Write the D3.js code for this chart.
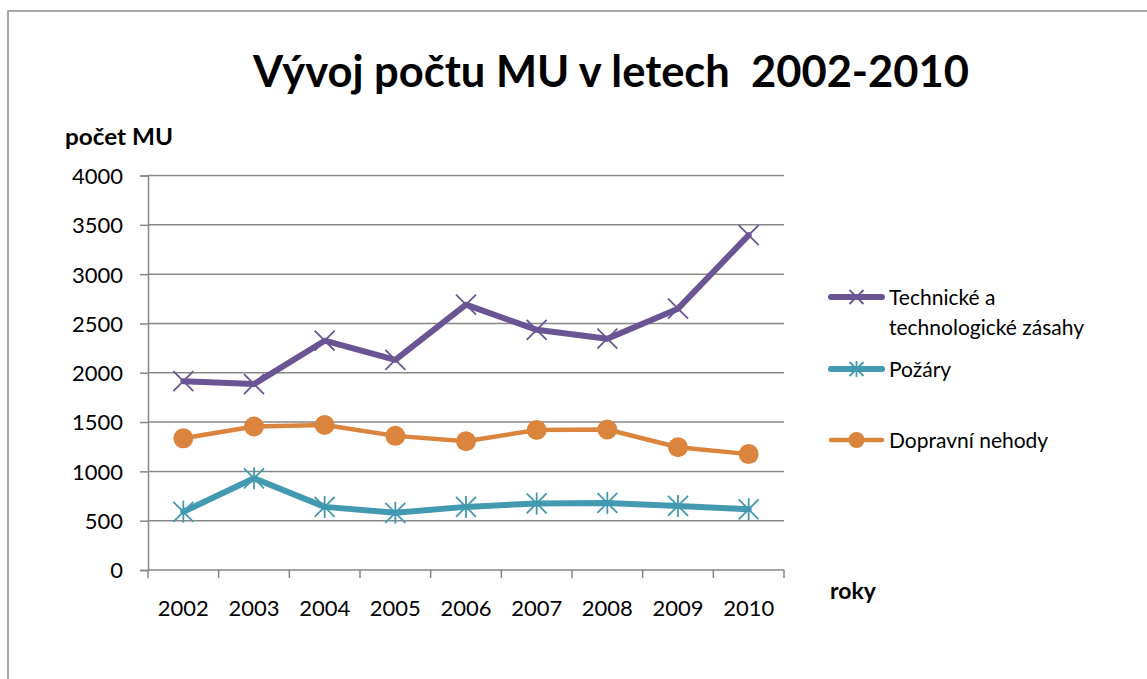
<!DOCTYPE html>
<html><head><meta charset="utf-8">
<script src="https://cdn.jsdelivr.net/npm/d3@7"></script>
<style>html,body{margin:0;padding:0;background:#fff;overflow:hidden}</style>
</head><body>
<script>
const years = ["2002","2003","2004","2005","2006","2007","2008","2009","2010"];
const technicke = [1915, 1885, 2325, 2130, 2690, 2435, 2345, 2650, 3395];
const pozary = [590, 930, 640, 580, 640, 675, 680, 650, 615];
const dopravni = [1335, 1455, 1470, 1360, 1305, 1420, 1425, 1245, 1175];
const yTicks = [0, 500, 1000, 1500, 2000, 2500, 3000, 3500, 4000];
const seriesNames = ["Technické a|technologické zásahy", "Požáry", "Dopravní nehody"];

const W = 1147, H = 679;
const font = "Lato, 'Open Sans', sans-serif";
const svg = d3.select("body").append("svg").attr("width", W).attr("height", H);

// frame
svg.append("rect").attr("x", 8).attr("y", 11).attr("width", W + 20).attr("height", H + 20)
  .attr("fill", "#fff").attr("stroke", "#8c8c8c").attr("stroke-width", 1.5);

const x = d3.scaleBand().domain(years).range([148, 784]).padding(0);
const y = d3.scaleLinear().domain([0, 4000]).range([570, 175.5]);
const cx = d => x(d) + x.bandwidth() / 2;

const grid = "#878787";
// gridlines
svg.append("g").selectAll("line").data(yTicks.filter(t => t > 0)).join("line")
  .attr("x1", 148).attr("x2", 784).attr("y1", d => y(d)).attr("y2", d => y(d))
  .attr("stroke", grid).attr("stroke-width", 1.5);

// y axis
const yAxis = svg.append("g").attr("transform", "translate(148,0)")
  .call(d3.axisLeft(y).tickValues(yTicks).tickSize(8).tickPadding(17).tickFormat(d3.format("d")));
yAxis.select(".domain").attr("stroke", grid).attr("stroke-width", 1.5);
yAxis.selectAll(".tick line").attr("stroke", grid).attr("stroke-width", 1.5);
yAxis.selectAll("text").attr("font-family", font).attr("font-size", 22).attr("fill", "#000").attr("dy", "0.36em");

// x axis
const xAxis = svg.append("g").attr("transform", "translate(0,570)")
  .call(d3.axisBottom(x).tickSize(0).tickPadding(30));
xAxis.select(".domain").attr("stroke", grid).attr("stroke-width", 1.5).attr("d", "M148,0H784");
xAxis.selectAll("text").attr("font-family", font).attr("font-size", 22).attr("fill", "#000");
const bounds = years.map(d => x(d)).concat([784]);
svg.append("g").selectAll("line").data(bounds).join("line")
  .attr("x1", d => d).attr("x2", d => d).attr("y1", 570).attr("y2", 578)
  .attr("stroke", grid).attr("stroke-width", 1.5);

// titles
svg.append("text").attr("x", 611).attr("y", 87).attr("text-anchor", "middle")
  .attr("font-family", font).attr("font-weight", "bold").attr("font-size", 43)
  .attr("textLength", 716).attr("lengthAdjust", "spacingAndGlyphs")
  .text("Výv\u200Boj počtu MU v letech  2002-2010").attr("xml:space", "preserve");
svg.append("text").attr("x", 65).attr("y", 145).attr("font-family", font).attr("font-weight", "bold")
  .attr("font-size", 23).attr("textLength", 108).attr("lengthAdjust", "spacingAndGlyphs").text("počet MU");
svg.append("text").attr("x", 830).attr("y", 599).attr("font-family", font).attr("font-weight", "bold")
  .attr("font-size", 23).text("roky");

const colors = ["#6b5494", "#4299b0", "#db843d"];
const widths = [6, 6, 4.5];
const data = [technicke, pozary, dopravni];
const line = d3.line().x((d, i) => cx(years[i])).y(d => y(d));

function marker(g, type, color) {
  if (type === 0) {
    g.append("path").attr("d", "M-10,-10L10,10M-10,10L10,-10").attr("stroke", color).attr("stroke-width", 1.8).attr("fill", "none");
  } else if (type === 1) {
    g.append("path").attr("d", "M-10,-10L10,10M-10,10L10,-10M0,-11V11").attr("stroke", color).attr("stroke-width", 1.8).attr("fill", "none");
  } else {
    g.append("circle").attr("r", 10).attr("fill", color);
  }
}

data.forEach((vals, si) => {
  svg.append("path").datum(vals).attr("d", line).attr("fill", "none")
    .attr("stroke", colors[si]).attr("stroke-width", widths[si]).attr("stroke-linejoin", "round").attr("stroke-linecap", "round");
  vals.forEach((v, i) => {
    const g = svg.append("g").attr("transform", `translate(${cx(years[i])},${y(v)})`);
    marker(g, si, colors[si]);
  });
});

// legend
const legY = [297, 369, 440];
seriesNames.forEach((name, si) => {
  svg.append("line").attr("x1", 831).attr("x2", 882).attr("y1", legY[si]).attr("y2", legY[si])
    .attr("stroke", colors[si]).attr("stroke-width", widths[si]).attr("stroke-linecap", "round");
  const g = svg.append("g").attr("transform", `translate(856.5,${legY[si]})`);
  if (si === 0) g.append("path").attr("d", "M-7,-7L7,7M-7,7L7,-7").attr("stroke", colors[si]).attr("stroke-width", 1.8);
  else if (si === 1) g.append("path").attr("d", "M-7,-7L7,7M-7,7L7,-7M0,-8V8").attr("stroke", colors[si]).attr("stroke-width", 1.8);
  else g.append("circle").attr("r", 8).attr("fill", colors[si]);
  const lines = name.split("|");
  lines.forEach((t, li) => {
    svg.append("text").attr("x", 889).attr("y", legY[si] + 8 + li * 30)
      .attr("font-family", font).attr("font-size", 21).attr("fill", "#000").text(t);
  });
});
</script>
</body></html>
